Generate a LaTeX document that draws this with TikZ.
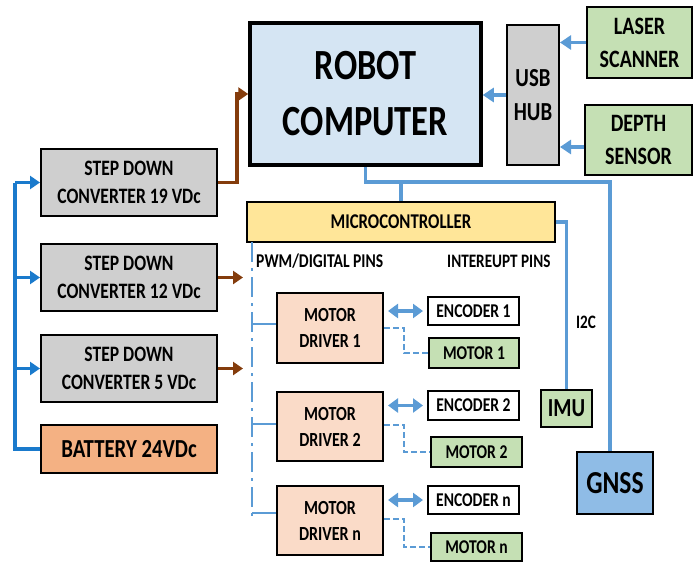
\documentclass[tikz,border=0pt]{standalone}
\usepackage{fontspec}
\setmainfont{Carlito}[FakeStretch=0.8]
\usetikzlibrary{arrows.meta,calc}
\definecolor{robotfill}{HTML}{D5E5F3}
\definecolor{grayfill}{HTML}{CFCFCF}
\definecolor{greenfill}{HTML}{C5E0B4}
\definecolor{yellowfill}{HTML}{FFE699}
\definecolor{peachfill}{HTML}{FADBC8}
\definecolor{battfill}{HTML}{F4B183}
\definecolor{gnssfill}{HTML}{8FBCE6}
\definecolor{lineblue}{HTML}{5B9BD5}
\definecolor{busblue}{HTML}{1A7ACC}
\definecolor{brownline}{HTML}{843C0C}
\newcommand{\fs}[2]{\fontsize{#1}{#2}\selectfont\bfseries}
\tikzset{
  box/.style={draw=black, line width=2pt, inner sep=0pt, align=center, text=black},
  bluelink/.style={draw=lineblue, line width=3.2pt},
  bluearrow/.style={draw=lineblue, line width=3.8pt, -{Triangle[length=11pt,width=14pt]}},
  dblarrow/.style={draw=lineblue, line width=3.8pt, {Triangle[length=10pt,width=14pt]}-{Triangle[length=10pt,width=14pt]}},
  busline/.style={draw=busblue, line width=3.2pt},
  busarrow/.style={draw=busblue, line width=3.2pt, -{Triangle[length=10pt,width=13pt]}},
  brownarrow/.style={draw=brownline, line width=3.2pt, -{Triangle[length=10pt,width=13pt]}},
  motorlink/.style={draw=lineblue, line width=2.6pt, dash pattern=on 6pt off 3pt},
  pwmbus/.style={draw=lineblue, line width=1.8pt, dash pattern=on 20pt off 6pt on 3pt off 6pt},
  lbl/.style={inner sep=0pt, text=black}
}
\begin{document}
\begin{tikzpicture}[x=1pt,y=-1pt]
\useasboundingbox (0,0) rectangle (699,562);
% nodes
\node[box, line width=3.5pt, fill=robotfill, minimum width=231, minimum height=142, font={\fs{43}{56}}] (robot) at (365.5,94) {ROBOT\\COMPUTER};
\node[box, fill=grayfill, minimum width=52, minimum height=140, font={\fs{26}{34}}] (usb) at (533,95) {USB\\HUB};
\node[box, fill=greenfill, minimum width=105, minimum height=71, font={\fs{25}{33}}] (laser) at (639.5,42.5) {LASER\\SCANNER};
\node[box, fill=greenfill, minimum width=107, minimum height=70, font={\fs{25}{33}}] (depth) at (638.5,140) {DEPTH\\SENSOR};
\node[box, fill=yellowfill, minimum width=308, minimum height=40, font={\fs{21}{24}}] (micro) at (401,222) {MICROCONTROLLER};
\node[box, fill=greenfill, minimum width=51, minimum height=37, font={\fs{26}{30}}] (imu) at (566.5,408.5) {IMU};
\node[box, fill=gnssfill, minimum width=76, minimum height=62, font={\fs{32}{36}}] (gnss) at (615,483) {GNSS};
\node[box, fill=grayfill, minimum width=176, minimum height=67, font={\fs{22}{28}}] (s19) at (129,182.5) {STEP DOWN\\CONVERTER 19 VDc};
\node[box, fill=grayfill, minimum width=176, minimum height=67, font={\fs{22}{28}}] (s12) at (129,277.5) {STEP DOWN\\CONVERTER 12 VDc};
\node[box, fill=grayfill, minimum width=176, minimum height=67, font={\fs{22}{28}}] (s5) at (129,368.5) {STEP DOWN\\CONVERTER 5 VDc};
\node[box, fill=battfill, minimum width=176, minimum height=48, font={\fs{26}{30}}] (batt) at (129,449) {BATTERY 24VDc};
\node[box, fill=peachfill, minimum width=106, minimum height=70, font={\fs{20}{26}}] (d1) at (330,328) {MOTOR\\DRIVER 1};
\node[box, fill=peachfill, minimum width=106, minimum height=69, font={\fs{20}{26}}] (d2) at (330,426.5) {MOTOR\\DRIVER 2};
\node[box, fill=peachfill, minimum width=106, minimum height=69, font={\fs{20}{26}}] (dn) at (330,520.5) {MOTOR\\DRIVER n};
\node[box, fill=white, minimum width=91, minimum height=28, font={\fs{19.5}{22}}] (e1) at (473.5,311) {ENCODER 1};
\node[box, fill=greenfill, minimum width=90, minimum height=30, font={\fs{19.5}{22}}] (m1) at (474,353) {MOTOR 1};
\node[box, fill=white, minimum width=91, minimum height=29, font={\fs{19.5}{22}}] (e2) at (473.5,405.5) {ENCODER 2};
\node[box, fill=greenfill, minimum width=91, minimum height=30, font={\fs{19.5}{22}}] (m2) at (476.5,452) {MOTOR 2};
\node[box, fill=white, minimum width=91, minimum height=28, font={\fs{19.5}{22}}] (en) at (473.5,500) {ENCODER n};
\node[box, fill=greenfill, minimum width=91, minimum height=28, font={\fs{19.5}{22}}] (mn) at (476.5,547) {MOTOR n};
% labels
\node[lbl, anchor=west, font={\fs{19.5}{22}}] (pwm) at (256,261) {PWM/DIGITAL PINS};
\node[lbl, anchor=west, font={\fs{19}{22}}] (intp) at (447,261) {INTEREUPT PINS};
\node[lbl, font={\fs{19}{22}}] (i2c) at (586,322) {I2C};
% coordinates
\coordinate (jn) at (401,182);
\coordinate (gx) at (610,182);
\coordinate (bt) at (252,242);
\coordinate (bb) at (252,518);
\coordinate (bl) at (15,449);
\coordinate (bk) at (237,0);
\coordinate (o12) at (243,277.5);
\coordinate (o5) at (243,368.5);
% USB links
\draw[bluearrow] (laser.west) -- (laser.west -| usb.east);
\draw[bluearrow] (depth.west |- 0,147) -- (usb.east |- 0,147);
\draw[bluearrow] (usb.west) -- (usb.west -| robot.east);
% robot to micro / gnss
\draw[bluelink] (robot.south) |- (gx) -- (gx |- gnss.north);
\draw[bluelink] (jn) -- (micro.north);
\draw[bluelink] (micro.east) -| (imu.north);
% pwm bus
\draw[pwmbus] (bt) -- (bb);
\draw[bluelink, line width=2.2pt] (bt |- 0,324) -- (d1.west |- 0,324);
\draw[bluelink, line width=2.2pt] (bt |- 0,424) -- (d2.west |- 0,424);
\draw[bluelink, line width=2.2pt] (bt |- 0,513) -- (dn.west |- 0,513);
% encoders
\draw[dblarrow] ($(d1.east |- e1.west)+(4,0)$) -- ($(e1.west)+(-4,0)$);
\draw[dblarrow] ($(d2.east |- e2.west)+(4,0)$) -- ($(e2.west)+(-4,0)$);
\draw[dblarrow] ($(dn.east |- en.west)+(4,0)$) -- ($(en.west)+(-4,0)$);
% motors
\draw[motorlink] (d1.east |- 0,328) -- (404,328) |- (m1.west);
\draw[motorlink] (d2.east |- 0,425) -- (404,425) |- (m2.west);
\draw[motorlink] (dn.east |- 0,519) -- (404,519) |- (mn.west);
% power bus
\draw[busline] (batt.west) -- (bl) -- (bl |- s19.west);
\draw[busarrow] (bl |- s19.west) -- (s19.west);
\draw[busarrow] (bl |- s12.west) -- (s12.west);
\draw[busarrow] (bl |- s5.west) -- (s5.west);
% brown
\draw[brownarrow] (s19.east) -| (bk |- robot.west) -- (robot.west);
\draw[brownarrow] (s12.east) -- (o12);
\draw[brownarrow] (s5.east) -- (o5);
\end{tikzpicture}
\end{document}
